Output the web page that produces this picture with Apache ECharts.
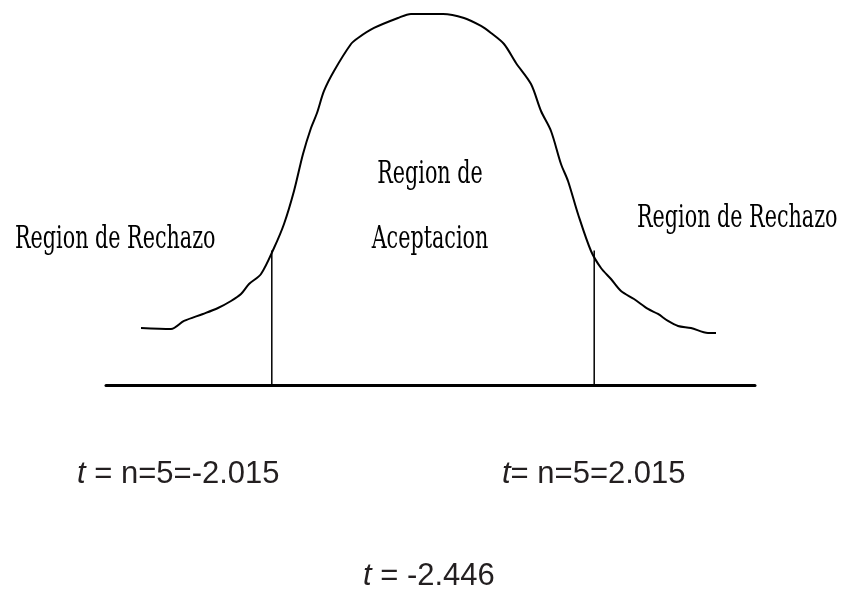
<!DOCTYPE html>
<html>
<head>
<meta charset="utf-8">
<title>Region de Aceptacion</title>
<script src="https://cdn.jsdelivr.net/npm/echarts@6/dist/echarts.min.js"></script>
<style>
  html, body { margin: 0; background: #fff; }
  #chart { width: 843px; height: 595px; }
</style>
</head>
<body>
<div id="chart"></div>
<script>
// hand-drawn bell curve (t units / density-like height)
const curveT = [-3.65, -3.275, -3.1125, -2.875, -2.6875, -2.525, -2.4, -2.3, -2.15, -1.9875,
  -1.8625, -1.7375, -1.625, -1.525, -1.45, -1.3625, -1.2375, -1.025, -0.9375, -0.7375,
  -0.4375, -0.275, 0.125, 0.3875, 0.6, 0.725, 0.8875, 1.0375, 1.225, 1.35,
  1.475, 1.6, 1.6875, 1.8125, 1.975, 2.1, 2.225, 2.35, 2.5125, 2.6875,
  2.8125, 2.9375, 3.0625, 3.225, 3.4375, 3.5375];
const curveY = [0.0594, 0.0583, 0.0667, 0.074, 0.0802, 0.0875, 0.0948, 0.1052, 0.1156, 0.1427,
  0.1677, 0.2021, 0.2406, 0.2677, 0.2833, 0.3063, 0.3271, 0.3552, 0.3615, 0.3719,
  0.3823, 0.3865, 0.3865, 0.3823, 0.374, 0.3667, 0.3552, 0.3354, 0.3135, 0.2854,
  0.2646, 0.2302, 0.2125, 0.1781, 0.1396, 0.1219, 0.1104, 0.0979, 0.0896, 0.0792,
  0.074, 0.0667, 0.0615, 0.0594, 0.0542, 0.0542];

// critical values and where the vertical lines meet the curve
const critT = [-2.015, 2.015];
const critTop = [0.14, 0.14];

const regionLabels = ["Region de Rechazo", "Region de", "Aceptacion", "Region de Rechazo"];
const critLabels = ["n=5=-2.015", "n=5=2.015"];
const tObserved = "-2.446";

const chart = echarts.init(document.getElementById("chart"));

const serif = '23px "DejaVu Serif Condensed", "DejaVu Serif", serif';
const sans = '"Liberation Sans", Arial, sans-serif';
const ink = "#231f20";

function serifText(txt, x, y, align) {
  return {
    type: "text",
    x: x,
    y: y,
    scaleY: 1.35,
    style: {
      text: txt,
      font: serif,
      fill: "#000",
      textAlign: align,
      textVerticalAlign: "middle",
      align: align,
      verticalAlign: "middle"
    }
  };
}

function sansText(txt, x, y) {
  return {
    type: "text",
    x: x,
    y: y,
    style: {
      text: txt,
      fontSize: 31,
      fontFamily: sans,
      fill: ink,
      textAlign: "left",
      textVerticalAlign: "middle",
      align: "left",
      verticalAlign: "middle",
      rich: {
        i: { fontSize: 31, fontFamily: sans, fontStyle: "italic", fill: ink }
      }
    }
  };
}

const series = [
  {
    type: "line",
    data: curveT.map((t, i) => [t, curveY[i]]),
    showSymbol: false,
    smooth: 0.3,
    lineStyle: { color: "#000", width: 2 }
  }
];
critT.forEach((t, i) => {
  series.push({
    type: "line",
    data: [[t, 0], [t, critTop[i]]],
    showSymbol: false,
    lineStyle: { color: "#000", width: 1.5 }
  });
});

chart.setOption({
  animation: false,
  backgroundColor: "#fff",
  grid: { left: 106, width: 649, top: 1, height: 384 },
  xAxis: {
    type: "value",
    min: -4.0875,
    max: 4.025,
    axisLine: { show: true, lineStyle: { color: "#000", width: 3 } },
    axisTick: { show: false },
    axisLabel: { show: false },
    splitLine: { show: false }
  },
  yAxis: {
    type: "value",
    min: 0,
    max: 0.4,
    show: false,
    splitLine: { show: false }
  },
  series: series,
  graphic: [
    serifText(regionLabels[0], 15, 240, "left"),
    serifText(regionLabels[1], 430, 175, "center"),
    serifText(regionLabels[2], 430, 240, "center"),
    serifText(regionLabels[3], 637, 219, "left"),
    sansText("{i|t} = " + critLabels[0], 77, 474),
    sansText("{i|t}= " + critLabels[1], 502, 474),
    sansText("{i|t} = " + tObserved, 363, 576)
  ]
});
</script>
</body>
</html>
